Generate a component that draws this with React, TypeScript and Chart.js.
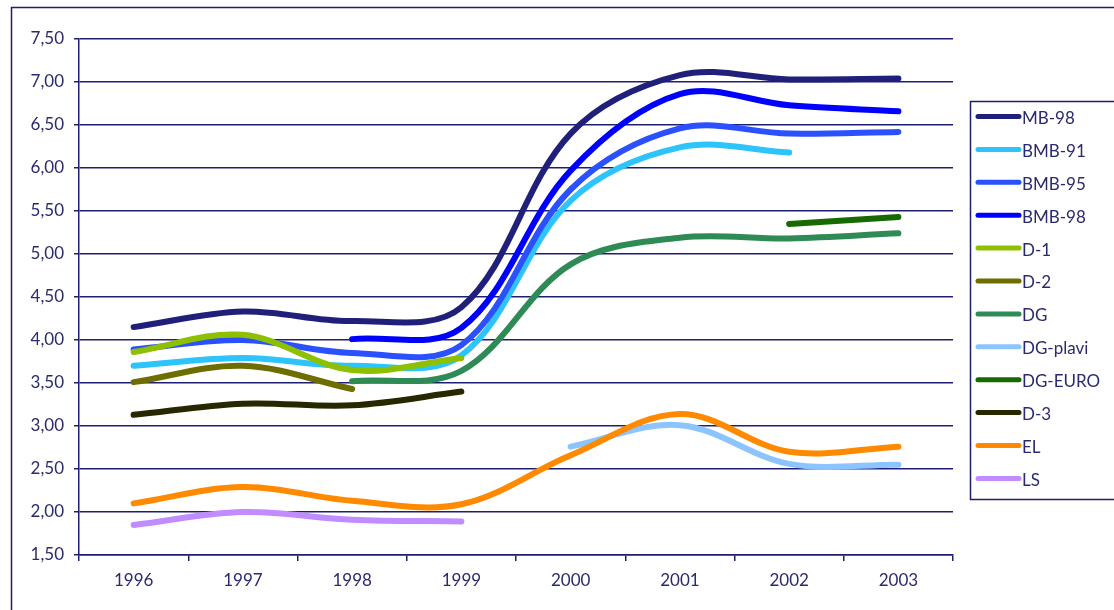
import React, { useEffect, useRef } from 'react';
import { Chart, registerables } from 'chart.js';

Chart.register(...registerables);

const years = ['1996', '1997', '1998', '1999', '2000', '2001', '2002', '2003'];

const MB98 = [4.15, 4.33, 4.22, 4.38, 6.40, 7.08, 7.03, 7.04];
const BMB91 = [3.70, 3.79, 3.70, 3.82, 5.62, 6.24, 6.18, null];
const BMB95 = [3.89, 4.00, 3.85, 3.94, 5.75, 6.46, 6.40, 6.42];
const BMB98 = [null, null, 4.01, 4.14, 5.97, 6.86, 6.73, 6.66];
const D1 = [3.86, 4.06, 3.65, 3.79, null, null, null, null];
const D2 = [3.51, 3.70, 3.43, null, null, null, null, null];
const DG = [null, null, 3.52, 3.64, 4.88, 5.19, 5.18, 5.24];
const DGplavi = [null, null, null, null, 2.76, 3.01, 2.56, 2.55];
const DGEURO = [null, null, null, null, null, null, 5.35, 5.43];
const D3 = [3.13, 3.26, 3.24, 3.40, null, null, null, null];
const EL = [2.10, 2.29, 2.13, 2.09, 2.66, 3.14, 2.70, 2.76];
const LS = [1.85, 2.00, 1.91, 1.89, null, null, null, null];

const seriesNames = ['MB-98', 'BMB-91', 'BMB-95', 'BMB-98', 'D-1', 'D-2', 'DG', 'DG-plavi', 'DG-EURO', 'D-3', 'EL', 'LS'];
const seriesData = [MB98, BMB91, BMB95, BMB98, D1, D2, DG, DGplavi, DGEURO, D3, EL, LS];
const seriesColors = ['#20207a', '#2cc4fa', '#2b50ff', '#0000ff', '#8dc000', '#6e6e00', '#2e8b55', '#8cc4ff', '#166a00', '#272700', '#ff8a00', '#c08cff'];

const NAVY = '#1e1e72';
const TEXT = '#2a2a6e';
const FONT = 'Lato, "Open Sans", sans-serif';

const frameAndLegend = {
  id: 'frameAndLegend',
  beforeDraw(chart: any) {
    const ctx = chart.ctx;
    ctx.save();
    ctx.fillStyle = '#ffffff';
    ctx.fillRect(0, 0, chart.width, chart.height);
    ctx.strokeStyle = NAVY;
    ctx.lineWidth = 1.5;
    ctx.strokeRect(11.5, 7.5, 1300, 800);
    ctx.restore();
  },
  afterDraw(chart: any) {
    const ctx = chart.ctx;
    ctx.save();
    ctx.strokeStyle = NAVY;
    ctx.lineWidth = 1.5;
    ctx.strokeRect(970.5, 101.5, 300, 398);
    const ds = chart.data.datasets;
    ds.forEach((d: any, i: number) => {
      const y = 116.5 + i * 32.9;
      ctx.strokeStyle = d.borderColor;
      ctx.lineWidth = 5;
      ctx.lineCap = 'round';
      ctx.beginPath();
      ctx.moveTo(978, y);
      ctx.lineTo(1019, y);
      ctx.stroke();
      ctx.fillStyle = TEXT;
      ctx.font = '17px ' + FONT;
      ctx.textBaseline = 'middle';
      ctx.textAlign = 'left';
      ctx.fillText(d.label, 1022, y + 2);
    });
    ctx.restore();
  },
};

export default function App() {
  const ref = useRef<HTMLCanvasElement | null>(null);
  useEffect(() => {
    if (!ref.current) return;
    const chart = new Chart(ref.current, {
      type: 'line',
      data: {
        labels: years,
        datasets: seriesNames.map((name, i) => ({
          label: name,
          data: seriesData[i],
          borderColor: seriesColors[i],
          backgroundColor: seriesColors[i],
          borderWidth: 6,
          borderCapStyle: 'round',
          borderJoinStyle: 'round',
          pointRadius: 0,
          pointHoverRadius: 0,
          tension: 0.35,
          spanGaps: false,
          fill: false,
          order: -i,
        })),
      },
      options: {
        animation: false,
        responsive: false,
        devicePixelRatio: 1,
        layout: { padding: { left: 0, top: 39, right: 161, bottom: 0 } },
        plugins: {
          legend: { display: false },
          tooltip: { enabled: false },
        },
        scales: {
          x: {
            type: 'category',
            offset: true,
            grid: {
              display: true,
              drawOnChartArea: false,
              drawTicks: true,
              tickLength: 6,
              color: NAVY,
              lineWidth: 1.5,
              offset: true,
            },
            border: { display: true, color: NAVY, width: 1.5 },
            ticks: {
              color: TEXT,
              font: { family: FONT, size: 17 },
              padding: 9,
              maxRotation: 0,
              autoSkip: false,
            },
            afterFit: (scale: any) => {
              scale.height = 55;
            },
          },
          y: {
            min: 1.5,
            max: 7.5,
            grid: {
              color: NAVY,
              lineWidth: 1.5,
              tickLength: 5,
              drawTicks: true,
            },
            border: { display: true, color: NAVY, width: 1.5 },
            ticks: {
              stepSize: 0.5,
              color: TEXT,
              font: { family: FONT, size: 17 },
              padding: 10,
              callback: (v: any) => Number(v).toFixed(2).replace('.', ','),
            },
            afterFit: (scale: any) => {
              scale.width = 79;
            },
          },
        },
      },
      plugins: [frameAndLegend],
    } as any);
    return () => chart.destroy();
  }, []);
  return (
    <div style={{ position: 'fixed', left: 0, top: 0, width: 1114, height: 610, overflow: 'hidden', background: '#fff' }}>
      <canvas ref={ref} width={1114} height={610} style={{ display: 'block', width: 1114, height: 610 }} />
    </div>
  );
}
